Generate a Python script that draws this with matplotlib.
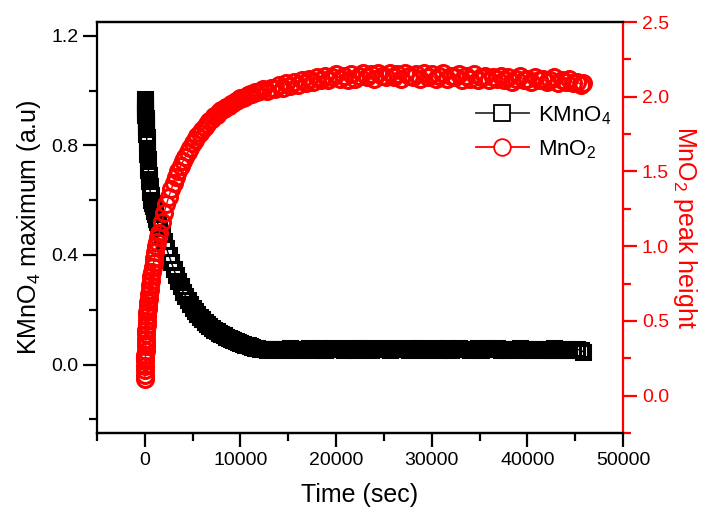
import matplotlib
matplotlib.use("Agg")
import matplotlib.pyplot as plt
from matplotlib.lines import Line2D
from matplotlib.ticker import MultipleLocator

plt.rcParams['font.family'] = ['Liberation Sans', 'DejaVu Sans']
plt.rcParams['mathtext.default'] = 'regular'

# time (sec) of each spectrum
time_s = [
    0, 10, 20, 30, 40, 50, 60, 75, 90, 105,
    120, 140, 160, 180, 200, 230, 260, 290, 320, 360,
    400, 450, 500, 560, 620, 690, 760, 840, 920, 1000,
    1100, 1200, 1300, 1400, 1500, 1750, 2000, 2250, 2500, 2750,
    3000, 3250, 3500, 3750, 4000, 4250, 4500, 4750, 5000, 5250,
    5500, 5750, 6000, 6250, 6500, 6750, 7000, 7250, 7500, 7750,
    8000, 8250, 8500, 8750, 9000, 9250, 9500, 9750, 10000, 10250,
    10500, 10750, 11000, 11250, 11500, 11750, 12000, 12400, 12800, 13200,
    13600, 14000, 14400, 14800, 15200, 15600, 16000, 16400, 16800, 17200,
    17600, 18000, 18400, 18800, 19200, 19600, 20000, 20400, 20800, 21200,
    21600, 22000, 22400, 22800, 23200, 23600, 24000, 24400, 24800, 25200,
    25600, 26000, 26400, 26800, 27200, 27600, 28000, 28400, 28800, 29200,
    29600, 30000, 30400, 30800, 31200, 31600, 32000, 32400, 32800, 33200,
    33600, 34000, 34400, 34800, 35200, 35600, 36000, 36400, 36800, 37200,
    37600, 38000, 38400, 38800, 39200, 39600, 40000, 40400, 40800, 41200,
    41600, 42000, 42400, 42800, 43200, 43600, 44000, 44400, 44800, 45200,
    45600, 45800,
]

# KMnO4 maximum (a.u), left axis
kmno4 = [
    0.97, 0.96, 0.95, 0.94, 0.93, 0.92, 0.91, 0.90, 0.89, 0.88,
    0.87, 0.86, 0.84, 0.83, 0.81, 0.79, 0.77, 0.75, 0.73, 0.71,
    0.69, 0.67, 0.65, 0.63, 0.62, 0.60, 0.59, 0.58, 0.57, 0.56,
    0.55, 0.53, 0.52, 0.51, 0.50, 0.475, 0.45, 0.425, 0.40, 0.375,
    0.35, 0.325, 0.305, 0.285, 0.265, 0.25, 0.235, 0.22, 0.208, 0.196,
    0.185, 0.175, 0.165, 0.156, 0.148, 0.14, 0.133, 0.127, 0.121, 0.116,
    0.111, 0.106, 0.102, 0.098, 0.094, 0.09, 0.086, 0.082, 0.079, 0.076,
    0.073, 0.07, 0.067, 0.064, 0.061, 0.059, 0.057, 0.056, 0.054, 0.057,
    0.055, 0.058, 0.053, 0.056, 0.060, 0.055, 0.052, 0.058, 0.056, 0.061,
    0.054, 0.057, 0.059, 0.053, 0.056, 0.062, 0.055, 0.058, 0.054, 0.060,
    0.057, 0.053, 0.059, 0.056, 0.061, 0.054, 0.058, 0.055, 0.060, 0.056,
    0.053, 0.058, 0.062, 0.055, 0.057, 0.054, 0.059, 0.056, 0.061, 0.053,
    0.058, 0.055, 0.060, 0.054, 0.057, 0.059, 0.053, 0.056, 0.061, 0.055,
    0.058, 0.054, 0.057, 0.060, 0.053, 0.056, 0.059, 0.055, 0.062, 0.054,
    0.057, 0.053, 0.058, 0.055, 0.060, 0.054, 0.057, 0.052, 0.058, 0.055,
    0.053, 0.057, 0.054, 0.059, 0.052, 0.056, 0.054, 0.057, 0.053, 0.055,
    0.052, 0.047,
]

# MnO2 peak height, right axis
mno2 = [
    0.11, 0.14, 0.17, 0.20, 0.23, 0.25, 0.27, 0.30, 0.33, 0.35,
    0.38, 0.41, 0.44, 0.47, 0.50, 0.53, 0.56, 0.58, 0.60, 0.63,
    0.65, 0.68, 0.71, 0.74, 0.77, 0.80, 0.83, 0.86, 0.89, 0.92,
    0.96, 1.00, 1.03, 1.06, 1.09, 1.16, 1.22, 1.28, 1.33, 1.38,
    1.42, 1.46, 1.50, 1.54, 1.57, 1.60, 1.63, 1.66, 1.69, 1.71,
    1.74, 1.76, 1.78, 1.80, 1.82, 1.84, 1.85, 1.87, 1.88, 1.90,
    1.91, 1.92, 1.93, 1.94, 1.95, 1.96, 1.97, 1.98, 1.99, 1.99,
    2.00, 2.01, 2.02, 2.02, 2.03, 2.03, 2.04, 2.05, 2.04, 2.06,
    2.05, 2.08, 2.06, 2.09, 2.07, 2.10, 2.08, 2.11, 2.09, 2.12,
    2.10, 2.13, 2.11, 2.14, 2.11, 2.13, 2.15, 2.12, 2.14, 2.11,
    2.15, 2.12, 2.14, 2.16, 2.13, 2.15, 2.12, 2.16, 2.14, 2.13,
    2.16, 2.13, 2.15, 2.12, 2.16, 2.14, 2.13, 2.15, 2.12, 2.16,
    2.13, 2.15, 2.12, 2.14, 2.16, 2.12, 2.14, 2.13, 2.15, 2.11,
    2.14, 2.12, 2.15, 2.11, 2.13, 2.14, 2.11, 2.13, 2.12, 2.14,
    2.11, 2.13, 2.10, 2.12, 2.14, 2.11, 2.12, 2.10, 2.13, 2.11,
    2.12, 2.10, 2.11, 2.13, 2.09, 2.11, 2.10, 2.12, 2.09, 2.10,
    2.08, 2.09,
]

fig = plt.figure(figsize=(7.14, 5.15), dpi=100)
ax = fig.add_axes([0.1359, 0.1592, 0.7367, 0.798])
ax2 = ax.twinx()

ax.plot(time_s, kmno4, color='black', lw=1, marker='s', ms=10.5,
        mfc='none', mew=2.2)
ax2.plot(time_s, mno2, color='red', lw=1, marker='o', ms=11.5,
         mfc='none', mew=2.2)

ax.set_xlim(-5000, 50000)
ax.set_ylim(-0.25, 1.25)
ax2.set_ylim(-0.25, 2.5)

ax.xaxis.set_major_locator(MultipleLocator(10000))
ax.xaxis.set_minor_locator(MultipleLocator(5000))
ax.yaxis.set_major_locator(MultipleLocator(0.4))
ax.yaxis.set_minor_locator(MultipleLocator(0.2))
ax2.yaxis.set_major_locator(MultipleLocator(0.5))
ax2.yaxis.set_minor_locator(MultipleLocator(0.25))
ax.yaxis.set_major_formatter(plt.FormatStrFormatter('%.1f'))
ax2.yaxis.set_major_formatter(plt.FormatStrFormatter('%.1f'))

for a in (ax, ax2):
    for s in a.spines.values():
        s.set_linewidth(1.6)
ax.spines['right'].set_visible(False)
ax2.spines['left'].set_visible(False)
ax2.spines['right'].set_color('red')

ax.tick_params(which='both', direction='out', width=1.6, labelsize=14,
               top=False, right=False)
ax.tick_params(which='major', length=10)
ax.tick_params(which='minor', length=6)
ax2.tick_params(which='both', direction='out', width=1.6, labelsize=14,
                colors='red')
ax2.tick_params(which='major', length=10)
ax2.tick_params(which='minor', length=6)

ax.set_xlabel('Time (sec)', fontsize=18, labelpad=10)
ax.set_ylabel('KMnO$_4$ maximum (a.u)', fontsize=18, labelpad=6)
ax2.set_ylabel('MnO$_2$ peak height', fontsize=18, color='red',
               rotation=270, labelpad=22)

# legend keys drawn thinner than the dense data markers
h1 = Line2D([], [], color='#333333', lw=1.3, marker='s', ms=11,
            mfc='white', mec='black', mew=1.3)
h2 = Line2D([], [], color='red', lw=1.3, marker='o', ms=12,
            mfc='white', mec='red', mew=1.3)
ax2.legend([h1, h2], ['KMnO$_4$', 'MnO$_2$'], loc='upper left',
           bbox_to_anchor=(0.72, 0.80), frameon=False, fontsize=16,
           handlelength=2.4, borderpad=0, borderaxespad=0, labelspacing=0.5,
           handletextpad=0.4)

fig.savefig('out.png', dpi=100)
